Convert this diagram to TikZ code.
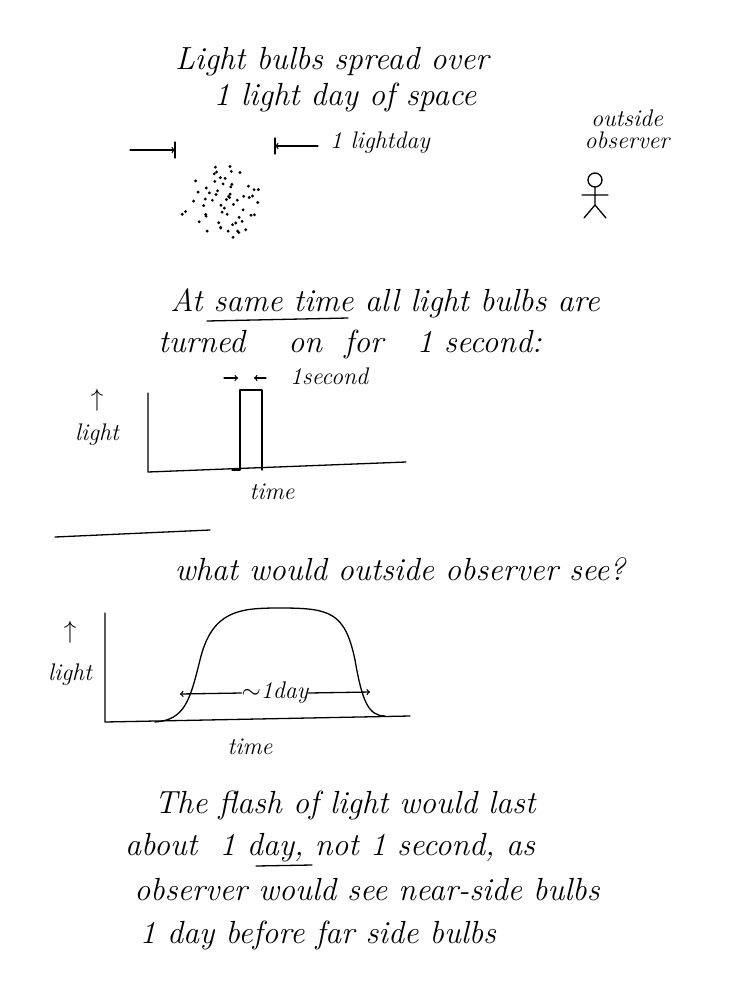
\documentclass[tikz,border=0pt]{standalone}
\usetikzlibrary{positioning}
\tikzset{
  hand/.style={font=\fontsize{32}{36}\selectfont\itshape, inner sep=1pt},
  small/.style={font=\fontsize{24}{27}\selectfont\itshape, inner sep=0pt},
  pen/.style={line width=1.3pt, line cap=round, line join=round},
  tip/.style={pen, ->},
}
\begin{document}
\begin{tikzpicture}[x=1pt, y=-1pt]
\useasboundingbox (0,0) rectangle (751,1004);
% title
\node[hand] (title1) at (332,62) {Light bulbs spread over};
\node[hand] (title2) at (345,97) {1 light day of space};
% width marks
\coordinate (wl) at (175,150);
\coordinate (wr) at (275,146);
\draw[tip] (130,150) -- (wl);
\draw[pen] (wl) ++(0,-8) -- ++(0,16);
\draw[tip] (318,146) -- (wr);
\draw[pen] (wr) ++(0,-8) -- ++(0,16);
\node[small, anchor=west] (ld) at (330,143) {1 lightday};
% bulbs
\pgfmathsetseed{7}
\foreach \i in {1,...,60}{
  \pgfmathsetmacro{\r}{42*sqrt(rnd)}
  \pgfmathsetmacro{\a}{360*rnd}
  \fill ({220+\r*cos(\a)},{203+0.9*\r*sin(\a)}) circle (1.6pt);
}
% observer
\node[small] (out1) at (627,118) {outside};
\node[small, below=5pt of out1] (out2) {observer};
\draw[pen] (595,180) circle (7);
\draw[pen] (595,187) -- (595,205) (582,195) -- (608,195) (595,205) -- (584,218) (595,205) -- (606,218);
% middle text
\node[hand] (same) at (385,303) {At same time all light bulbs are};
\draw[pen] (207,321) -- (348,318);
\node[hand] (turned) at (350,344) {turned \quad on \ for \ \ 1 second:};
% graph 1
\draw[pen] (148,393) -- (148,472) -- (406,462);
\draw[pen] (232,470) -- (240,470) -- (240,390) -- (262,390) -- (262,470);
\draw[tip] (224,378) -- (238,378);
\draw[tip] (266,378) -- (254,378);
\node[small, anchor=west] (sec) at (290,376) {1second};
\node[small] (up1) at (97,400) {$\uparrow$};
\node[small] (lt1) at (97,435) {light};
\node[small] (tm1) at (272,492) {time};
% separator
\draw[pen] (55,537) -- (210,530);
\node[hand] (what) at (400,569) {what would outside observer see?};
% graph 2
\draw[pen] (105,613) -- (105,722) -- (410,716);
\draw[pen] (155,722) .. controls (185,720) and (190,700) .. (200,660)
  .. controls (212,610) and (240,608) .. (280,608)
  .. controls (330,608) and (345,612) .. (355,660)
  .. controls (362,700) and (368,716) .. (385,716);
\node[small] (up2) at (70,632) {$\uparrow$};
\node[small] (lt2) at (70,675) {light};
\node[small] (day) at (275,693) {$\sim$1day};
\draw[tip] (day.west) -- (180,694);
\draw[tip] (day.east) -- (370,692);
\node[small] (tm2) at (250,747) {time};
% conclusion
\node[hand] (c1) at (345,805) {The flash of light would last};
\node[hand] (c2) at (330,848) {about \ 1 day, not 1 second, as};
\draw[pen] (256,866) -- (312,865);
\node[hand] (c3) at (367,890) {observer would see near-side bulbs};
\node[hand] (c4) at (318,935) {1 day before far side bulbs};
\end{tikzpicture}
\end{document}
